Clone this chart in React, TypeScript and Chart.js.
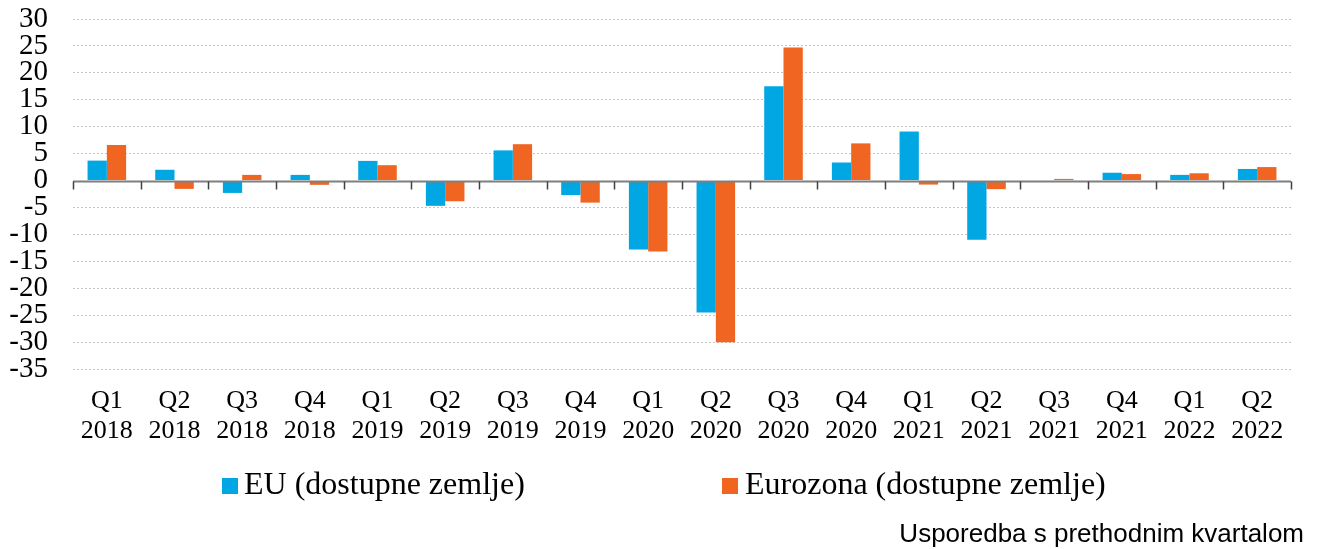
import React, { useEffect, useRef } from 'react';
import { Chart, registerables } from 'chart.js';

Chart.register(...registerables);

const categories: string[][] = [
  ['Q1', '2018'], ['Q2', '2018'], ['Q3', '2018'], ['Q4', '2018'],
  ['Q1', '2019'], ['Q2', '2019'], ['Q3', '2019'], ['Q4', '2019'],
  ['Q1', '2020'], ['Q2', '2020'], ['Q3', '2020'], ['Q4', '2020'],
  ['Q1', '2021'], ['Q2', '2021'], ['Q3', '2021'], ['Q4', '2021'],
  ['Q1', '2022'], ['Q2', '2022'],
];

const euValues = [3.7, 2.0, -2.3, 1.05, 3.65, -4.7, 5.6, -2.7, -12.8, -24.5, 17.5, 3.35, 9.1, -11.0, 0.1, 1.45, 1.05, 2.15];
const ezValues = [6.6, -1.55, 1.05, -0.8, 2.85, -3.85, 6.75, -4.1, -13.2, -30.05, 24.7, 6.9, -0.75, -1.6, 0.3, 1.2, 1.35, 2.5];

const seriesNames = ['EU (dostupne zemlje)', 'Eurozona (dostupne zemlje)'];
const seriesColors = ['#00a7e3', '#f16522'];

const yMin = -35;
const yMax = 30;
const yStep = 5;

const footnote = 'Usporedba s prethodnim kvartalom';

const zeroLinePlugin = {
  id: 'zeroLine',
  afterDatasetsDraw(chart: any) {
    const { ctx, chartArea, scales } = chart;
    const y0 = Math.round(scales.y.getPixelForValue(0)) + 0.5;
    ctx.save();
    ctx.strokeStyle = '#7f7f7f';
    ctx.lineWidth = 2;
    ctx.beginPath();
    ctx.moveTo(chartArea.left, y0);
    ctx.lineTo(chartArea.right, y0);
    ctx.stroke();
    const n = chart.data.labels.length;
    const w = (chartArea.right - chartArea.left) / n;
    ctx.strokeStyle = '#404040';
    ctx.lineWidth = 1.5;
    for (let i = 0; i <= n; i++) {
      const x = Math.round(chartArea.left + i * w) + 0.5;
      ctx.beginPath();
      ctx.moveTo(x, y0);
      ctx.lineTo(x, y0 + 8);
      ctx.stroke();
    }
    ctx.restore();
  },
};

const legendPlugin = {
  id: 'customLegend',
  afterDraw(chart: any) {
    const { ctx } = chart;
    const boxX = [222, 722];
    const textX = [244, 745];
    const cy = 486;
    ctx.save();
    ctx.font = '32px "Liberation Serif", "Times New Roman", serif';
    ctx.textBaseline = 'middle';
    ctx.textAlign = 'left';
    chart.data.datasets.forEach((ds: any, i: number) => {
      ctx.fillStyle = ds.backgroundColor;
      ctx.fillRect(boxX[i], cy - 8, 16, 16);
      ctx.fillStyle = '#000';
      ctx.fillText(ds.label, textX[i], cy);
    });
    ctx.font = '26px "Liberation Sans", Arial, sans-serif';
    ctx.textAlign = 'right';
    ctx.textBaseline = 'alphabetic';
    ctx.fillStyle = '#000';
    ctx.fillText(footnote, 1304, 542);
    ctx.restore();
  },
};

export default function App() {
  const canvasRef = useRef<HTMLCanvasElement | null>(null);

  useEffect(() => {
    if (!canvasRef.current) return;
    const chart = new Chart(canvasRef.current, {
      type: 'bar',
      data: {
        labels: categories,
        datasets: [
          { label: seriesNames[0], data: euValues, backgroundColor: seriesColors[0], borderWidth: 0 },
          { label: seriesNames[1], data: ezValues, backgroundColor: seriesColors[1], borderWidth: 0 },
        ],
      },
      options: {
        animation: false,
        responsive: true,
        maintainAspectRatio: false,
        layout: { padding: { left: 0, right: 31, top: 19, bottom: 100 } },
        datasets: { bar: { categoryPercentage: 0.57, barPercentage: 1 } },
        plugins: {
          legend: { display: false },
          tooltip: { enabled: false },
        },
        scales: {
          x: {
            grid: { display: false, drawTicks: false, tickLength: 0 },
            border: { display: false },
            ticks: {
              color: '#000',
              maxRotation: 0,
              autoSkip: false,
              padding: 17,
              font: { family: '"Liberation Serif", "Times New Roman", serif', size: 26, lineHeight: 30 / 26 },
            },
            afterFit(scale: any) {
              scale.height = 80;
            },
          },
          y: {
            min: yMin,
            max: yMax,
            grid: {
              color: (c: any) => (c.tick && c.tick.value === 0 ? 'rgba(0,0,0,0)' : '#c4c4c4'),
              lineWidth: 1,
              drawTicks: false,
              tickLength: 0,
            },
            border: { display: false, dash: [2, 2] },
            ticks: {
              stepSize: yStep,
              autoSkip: false,
              color: '#000',
              padding: 25,
              font: { family: '"Liberation Serif", "Times New Roman", serif', size: 29 },
              callback: (v: any) => String(v),
            },
            afterFit(scale: any) {
              scale.width = 73;
              scale.paddingTop = 0;
              scale.paddingBottom = 0;
            },
          },
        },
      },
      plugins: [zeroLinePlugin, legendPlugin],
    });
    return () => chart.destroy();
  }, []);

  return (
    <div style={{ position: 'fixed', left: 0, top: 0, width: 1322, height: 549, background: '#fff' }}>
      <canvas ref={canvasRef} />
    </div>
  );
}
